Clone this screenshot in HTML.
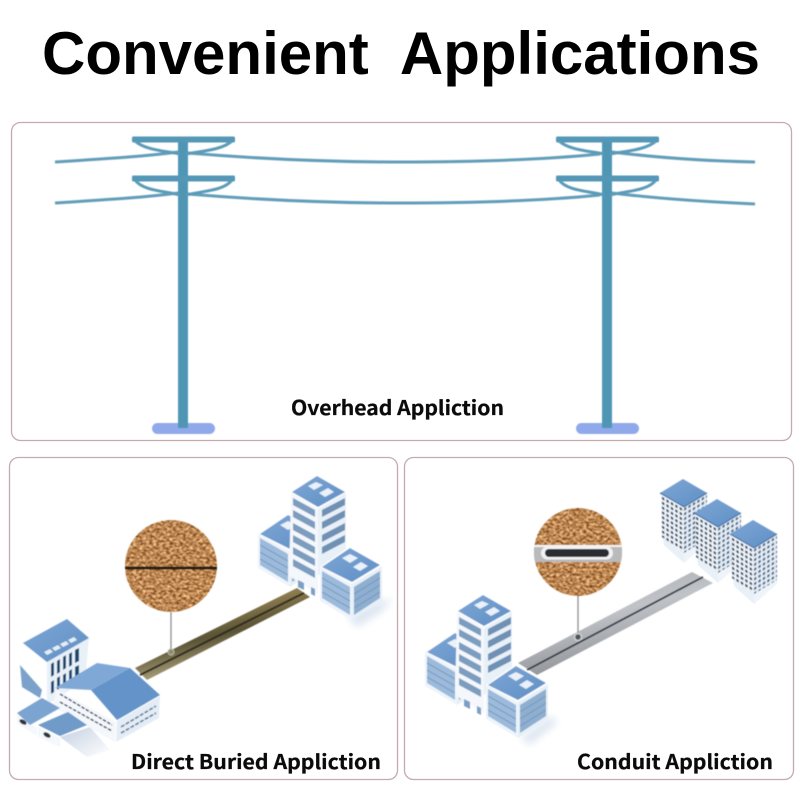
<!DOCTYPE html>
<html><head><meta charset="utf-8"><style>html,body{margin:0;padding:0;background:#fff;width:800px;height:800px;overflow:hidden}svg{display:block}</style></head><body>
<svg xmlns="http://www.w3.org/2000/svg" width="800" height="800" viewBox="0 0 800 800">
<defs>
<filter id="soil" x="0" y="0" width="1" height="1" color-interpolation-filters="sRGB"><feTurbulence type="fractalNoise" baseFrequency="0.3 0.42" numOctaves="3" seed="7"/><feColorMatrix values="1 0 0 0 .23 1 0 0 0 .02 .95 0 0 0 -.16 0 0 0 0 1"/></filter>
<filter id="bl"><feGaussianBlur stdDeviation="4"/></filter>
<filter id="b1"><feGaussianBlur stdDeviation=".55"/></filter>
<clipPath id="c1"><circle cx="171" cy="566" r="46"/></clipPath>
<clipPath id="c2"><circle cx="578" cy="552" r="44"/></clipPath>
<linearGradient id="roof" x1="0" y1="0" x2="1" y2="1"><stop offset="0" stop-color="#7ea6d6"/><stop offset="1" stop-color="#5f8fc4"/></linearGradient>
<linearGradient id="olive" x1="0" y1="0" x2=".45" y2="1"><stop offset="0" stop-color="#c0ae7c"/><stop offset=".4" stop-color="#87784c"/><stop offset=".6" stop-color="#5a5336"/><stop offset="1" stop-color="#cfc39a"/></linearGradient>
<linearGradient id="gray" x1="0" y1="0" x2=".45" y2="1"><stop offset="0" stop-color="#9fa2a7"/><stop offset=".5" stop-color="#c0c3c7"/><stop offset="1" stop-color="#85888d"/></linearGradient>
<linearGradient id="shade" x1="0" y1="0" x2="1" y2="1"><stop offset="0" stop-color="#c4d0e2"/><stop offset="1" stop-color="#ffffff"/></linearGradient>
<pattern id="dl" width="4.4" height="4.8" patternUnits="userSpaceOnUse" patternTransform="skewY(30)"><rect width="4.4" height="4.8" fill="#f0f5fa"/><rect x="1" y="1" width="2.4" height="2.6" fill="#34485e"/></pattern>
<pattern id="dr" width="4.4" height="4.8" patternUnits="userSpaceOnUse" patternTransform="skewY(-30)"><rect width="4.4" height="4.8" fill="#e6eff8"/><rect x="1" y="1" width="2.4" height="2.6" fill="#4c6580"/></pattern>
<g id="low">
<polygon points="-30,18 2,36 2,72 -30,53" fill="#eef4fa"/>
<polygon points="2,36 32,18 32,53 2,72" fill="#e7eff7"/>
<polygon points="-28,23 0,39 0,67 -28,50" fill="#9cbadb"/>
<polygon points="4,39 30,23 30,50 4,67" fill="#8fafd1"/>
<g stroke="#7596ba" stroke-width="1" fill="none"><line x1="-28" y1="30" x2="0" y2="46"/><line x1="-28" y1="37" x2="0" y2="53"/><line x1="-28" y1="44" x2="0" y2="60"/><line x1="4" y1="46" x2="30" y2="30"/><line x1="4" y1="53" x2="30" y2="37"/><line x1="4" y1="60" x2="30" y2="44"/></g>
<polygon points="0,-2 32,17 2,36 -30,19" fill="#fff"/>
<polygon points="0,0 30,17 2,34 -28,19" fill="url(#roof)"/>
<polygon points="-8,10 0,6 8,10 0,15" fill="#e9f1f9"/><polygon points="3,19 11,14 18,18 10,23" fill="#e9f1f9"/>
</g>
<g id="tower">
<polygon points="-26,16 1,32 1,118 -28,100" fill="#f4f7fb"/>
<polygon points="1,32 29,16 29,80 1,100" fill="#e8f0f8"/>
<g fill="#7b9cc0"><polygon points="-24,22 -2,34 -2,41 -24,29"/><polygon points="-24,34 -2,46 -2,53 -24,41"/><polygon points="-24,47 -2,59 -2,66 -24,54"/><polygon points="-24,59 -2,71 -2,78 -24,66"/><polygon points="-24,71 -2,83 -2,90 -24,78"/><polygon points="-24,83 -2,95 -2,102 -24,90"/></g>
<g fill="#6f90b4"><polygon points="5,34 28,22 28,29 5,41"/><polygon points="5,46 28,34 28,41 5,53"/><polygon points="5,59 28,47 28,54 5,66"/><polygon points="5,71 28,59 28,66 5,78"/></g>
<polygon points="-19,104 -13,107 -13,114 -19,111" fill="#7d9fc4"/><polygon points="-6,111 -2,113 -2,120 -6,118" fill="#7d9fc4"/>
<polygon points="0,-2 30,16 1,33 -27,16" fill="#fff"/>
<polygon points="0,0 28,16 1,31 -25,16" fill="url(#roof)"/>
<polygon points="-9,10 -1,6 6,9 -3,14" fill="#e9f1f9"/><polygon points="2,17 11,12 17,16 8,21" fill="#e9f1f9"/>
</g>
<g id="tall">
<polygon points="-21,50 1,66 1,84 -19,66" fill="#e8f0f8"/>
<polygon points="1,66 24,50 24,64 1,84" fill="#eef4fa"/>
<polygon points="-22,14 1,28 1,74 -21,58" fill="url(#dl)"/>
<polygon points="1,28 24,14 24,60 1,74" fill="url(#dr)"/>
<polygon points="0,0 24,14 1,28 -23,14" fill="url(#roof)"/>
<path d="M-23,14 L1,28 L24,14" fill="none" stroke="#3f6fa5" stroke-width="1.1"/>
</g>
</defs>
<rect width="800" height="800" fill="#fff"/>

<text x="42" y="74" font-family="'Liberation Sans',sans-serif" font-weight="700" font-size="60" textLength="718" lengthAdjust="spacingAndGlyphs" xml:space="preserve" style="white-space:pre" fill="#000">Convenient  Applications</text>

<rect x="11.5" y="122.5" width="780" height="318" rx="9" fill="#fff" stroke="#c4abb0" stroke-width="1.3"/>
<rect x="9.5" y="457.5" width="388" height="322" rx="9" fill="#fff" stroke="#c4abb0" stroke-width="1.3"/>
<rect x="404.5" y="457.5" width="389" height="322" rx="9" fill="#fff" stroke="#c4abb0" stroke-width="1.3"/>

<g filter="url(#b1)">
<g fill="none" stroke="#629db9" stroke-width="3">
<path d="M55,162 C100,159 140,157 178,152"/><path d="M188,153 C260,159 330,162 400,162 C470,162 540,160 600,154"/><path d="M612,152 C660,158 710,161 755,162"/>
<path d="M55,203 C100,200 140,198 178,193"/><path d="M188,194 C260,200 330,203 400,203 C470,203 540,201 600,195"/><path d="M612,193 C660,199 710,202 755,204"/>
</g>
<g id="p1">
<rect x="152" y="423" width="63" height="11" rx="5.5" fill="#8fa9ea"/>
<rect x="178" y="138" width="10" height="290" fill="#4f96b4"/>
<rect x="132" y="136.500" width="103" height="6" rx="1.500" fill="#5497b6"/>
<rect x="132" y="175.500" width="103" height="6" rx="1.500" fill="#5497b6"/>
<g fill="none" stroke="#5a9bb8" stroke-width="3">
<path d="M135,141 C145,150 165,151 180,154"/><path d="M232,141 C222,150 202,151 186,154"/>
<path d="M135,180 C143,191 165,191 180,195"/><path d="M232,180 C224,191 202,191 186,195"/>
</g>
</g>
<use href="#p1" x="424"/>
</g>
<text x="291" y="415" font-family="'Noto Sans CJK SC','Liberation Sans',sans-serif" font-weight="700" font-size="20" textLength="213" lengthAdjust="spacingAndGlyphs" fill="#0b0b0b" stroke="#0b0b0b" stroke-width=".25">Overhead Appliction</text>

<!-- Direct buried -->
<g filter="url(#b1)">
<polygon points="345,610 392,598 382,612 356,628" fill="#dfe7f2" filter="url(#bl)"/>
<polygon points="135,668 297,588 310,597 147,680" fill="url(#olive)"/>
<line x1="140" y1="675" x2="304" y2="593" stroke="#2f2b1c" stroke-width="2"/>
<use href="#low" x="288" y="515"/>
<use href="#tower" x="317" y="476"/>
<use href="#low" x="350" y="548"/>
<line x1="171" y1="610" x2="171" y2="652" stroke="#8c8f92" stroke-width="1.3"/>
<circle cx="171" cy="652" r="3" fill="#8c8a70" stroke="#bdbba8"/>

<polygon points="60,737 87,757 110,750 90,727" fill="url(#shade)"/>
<polygon points="20,665 42,690 40,698 22,687" fill="#7ca2cb"/>
<polygon points="47,662 89,638 85,680 47,705" fill="#e8f0f8"/>
<g fill="#1f4a70"><polygon points="51,664 54,662 54,675 51,677"/><polygon points="57,661 60,659 60,672 57,674"/><polygon points="63,657 66,655 66,668 63,670"/><polygon points="69,654 72,652 72,665 69,667"/><polygon points="75,650 79,648 79,661 75,663"/><polygon points="51,682 54,680 54,692 51,694"/><polygon points="57,678 60,676 60,688 57,690"/><polygon points="63,675 66,673 66,685 63,687"/><polygon points="69,671 72,669 72,681 69,683"/><polygon points="75,667 79,665 79,677 75,679"/></g>
<polygon points="67,619 89,638 47,662 23,643" fill="url(#roof)"/>
<g fill="#e4edf5"><polygon points="44,652 50,649 53,652 47,655"/><polygon points="52,648 58,645 61,648 55,651"/><polygon points="60,644 66,641 69,644 63,647"/><polygon points="68,640 74,637 77,640 71,643"/></g>
<polygon points="56,689 116,722 115,742 53,707" fill="#f4f7fb"/>
<g stroke="#2f3d52" stroke-width="1.4" stroke-dasharray="3.5 1.5" fill="none"><line x1="60" y1="694" x2="112" y2="725"/><line x1="60" y1="702" x2="112" y2="731"/></g>
<polygon points="117,721 160,696 159,718 116,742" fill="#e4edf6"/>
<g stroke="#5d7a99" stroke-width="1.6" stroke-dasharray="4 1.5" fill="none"><line x1="121" y1="727" x2="156" y2="706"/><line x1="121" y1="733" x2="156" y2="713"/></g>
<polygon points="91,690 130,668 160,695 117,720" fill="#6493c8"/>
<polygon points="55,688 97,663 130,668 91,690" fill="#80a8d6"/>
<polygon points="17,715 37,728 37,736 17,723" fill="#f4f7fb"/>
<polygon points="17,713 42,698 60,708 30,725" fill="#7ca4d0"/>
<polygon points="38,727 60,738 60,747 38,737" fill="#f4f7fb"/>
<polygon points="38,725 68,712 87,725 60,736" fill="#6f9ac8"/>
<ellipse cx="23" cy="722" rx="4" ry="2.2" fill="#2c3440" transform="rotate(30 23 722)"/>
<ellipse cx="47" cy="735" rx="4" ry="2.2" fill="#2c3440" transform="rotate(30 47 735)"/>

<g clip-path="url(#c1)">
<rect x="125" y="520" width="92" height="92" filter="url(#soil)"/>
<rect x="125" y="566.500" width="92" height="3" fill="#241e18"/>
</g>
</g>
<text x="131" y="769" font-family="'Noto Sans CJK SC','Liberation Sans',sans-serif" font-weight="700" font-size="20" textLength="250" lengthAdjust="spacingAndGlyphs" fill="#0b0b0b" stroke="#0b0b0b" stroke-width=".25">Direct Buried Appliction</text>

<!-- Conduit -->
<g filter="url(#b1)">
<polygon points="520,738 550,716 558,722 530,745" fill="#dfe7f2" filter="url(#bl)"/>
<use href="#tall" x="683" y="479"/>
<use href="#tall" x="717" y="499"/>
<use href="#tall" x="753" y="520"/>
<polygon points="518,663 692,572 713,583 537,675" fill="url(#gray)"/>
<line x1="527" y1="670" x2="703" y2="577" stroke="#33383d" stroke-width="1.8"/>
<use href="#low" x="455" y="633"/>
<use href="#tower" x="483" y="595"/>
<use href="#low" x="516" y="666"/>
<line x1="578" y1="594" x2="578" y2="634" stroke="#8c8f92" stroke-width="1.3"/>
<circle cx="578" cy="637" r="3.5" fill="#505459" stroke="#d0d2d5" stroke-width="1.500"/>
<g clip-path="url(#c2)">
<rect x="530" y="504" width="96" height="96" filter="url(#soil)"/>
<rect x="530" y="545" width="96" height="17" fill="#b9babb"/>
<rect x="530" y="545" width="96" height="2" fill="#f5f5f5"/>
<rect x="541" y="546.500" width="72" height="13" rx="6.500" fill="#f2f2f2"/>
<rect x="545" y="549" width="64" height="8" rx="4" fill="#2b2d30"/>
</g>
</g>
<text x="577" y="769" font-family="'Noto Sans CJK SC','Liberation Sans',sans-serif" font-weight="700" font-size="20" textLength="196" lengthAdjust="spacingAndGlyphs" fill="#0b0b0b" stroke="#0b0b0b" stroke-width=".25">Conduit Appliction</text>
</svg>
</body></html>
